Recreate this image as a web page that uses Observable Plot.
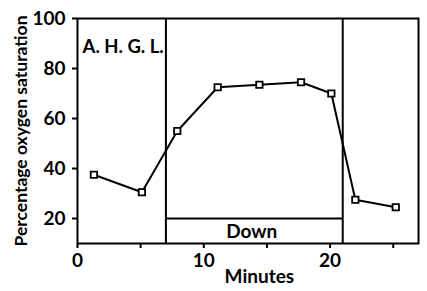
<!DOCTYPE html>
<html>
<head>
<meta charset="utf-8">
<script src="https://cdn.jsdelivr.net/npm/d3@7"></script>
<script src="https://cdn.jsdelivr.net/npm/@observablehq/plot@0.6"></script>
<style>
  html, body { margin: 0; padding: 0; background: #fff; }
  #chart svg { display: block; }
</style>
</head>
<body>
<div id="chart"></div>
<script>
// Data
const minutes = [1.3, 5.1, 7.9, 11.1, 14.4, 17.7, 20.1, 22.0, 25.2];
const saturation = [37.5, 30.5, 55, 72.5, 73.5, 74.5, 70, 27.5, 24.5];
const phaseBounds = [7, 21];
const downLevel = 20;
const xTicks = [0, 5, 10, 15, 20, 25];
const xTickLabels = [0, 10, 20];
const yTicks = [20, 40, 60, 80, 100];
const subjectLabel = "A. H. G. L.";
const phaseLabel = "Down";
const xTitle = "Minutes";
const yTitle = "Percentage oxygen saturation";

const points = minutes.map((m, i) => ({minute: m, sat: saturation[i]}));

const font = "Lato, 'DejaVu Sans', sans-serif";

const chart = Plot.plot({
  width: 427,
  height: 291,
  marginLeft: 77,
  marginRight: 9,
  marginTop: 18,
  marginBottom: 48,
  style: {fontFamily: font, fontSize: "19px", fontWeight: "bold", color: "#000", background: "#fff"},
  x: {domain: [0, 27]},
  y: {domain: [10, 100]},
  marks: [
    Plot.frame({stroke: "#000", strokeWidth: 2}),
    Plot.axisY({
      ticks: yTicks, tickSize: 5, tickPadding: 7, strokeWidth: 2,
      label: null, fontSize: 19
    }),
    Plot.axisY({
      ticks: [], label: yTitle, labelAnchor: "center", labelOffset: 63,
      labelArrow: false, fontSize: 17.5
    }),
    Plot.axisX({
      ticks: xTicks, tickSize: 5, tickPadding: 5, strokeWidth: 2,
      tickFormat: d => xTickLabels.includes(d) ? String(d) : "",
      label: null, fontSize: 19
    }),
    Plot.text([xTitle], {x: 14.4, frameAnchor: "bottom", dy: 39, fontSize: 19, text: d => d}),
    Plot.ruleX(phaseBounds, {y1: 10, y2: 100, stroke: "#000", strokeWidth: 2}),
    Plot.ruleY([downLevel], {x1: phaseBounds[0], x2: phaseBounds[1], stroke: "#000", strokeWidth: 2}),
    Plot.text([phaseLabel], {x: 13.8, y: 14.6, text: d => d, fontSize: 19}),
    Plot.text([subjectLabel], {x: 0.4, y: 88.5, text: d => d, textAnchor: "start", fontSize: 18.5, letterSpacing: "-1px"}),
    Plot.line(points, {x: "minute", y: "sat", stroke: "#000", strokeWidth: 2}),
    Plot.dot(points, {x: "minute", y: "sat", symbol: "square", r: 3.6, fill: "#fff", stroke: "#000", strokeWidth: 1.8})
  ]
});

document.getElementById("chart").appendChild(chart);
</script>
</body>
</html>
